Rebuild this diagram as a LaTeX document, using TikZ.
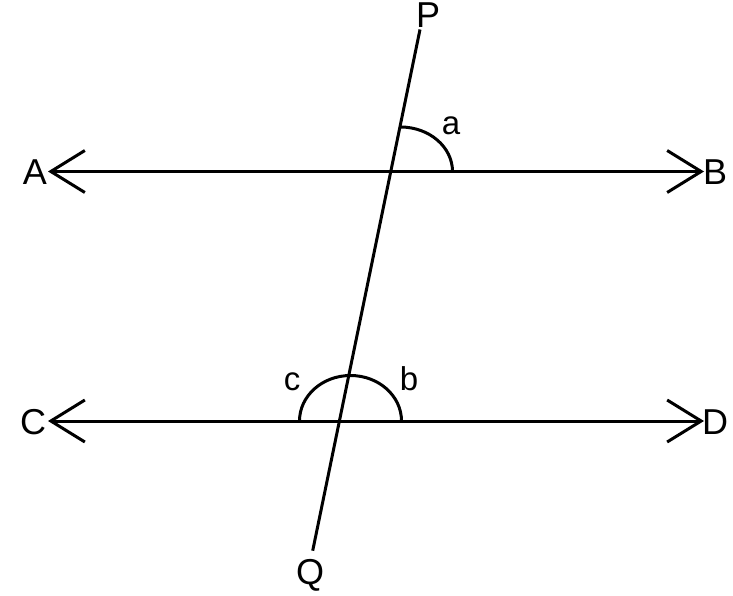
\documentclass[tikz,border=0pt]{standalone}
\usepackage{fontspec}
\setmainfont{Liberation Sans}
\usetikzlibrary{arrows.meta}
\begin{document}
\begin{tikzpicture}[x=1pt,y=-1pt,
  ln/.style={line width=3pt,black},
  arr/.style={ln,{Straight Barb[length=34pt,width=42pt,line width=3pt]}-{Straight Barb[length=34pt,width=42pt,line width=3pt]}},
  lab/.style={inner sep=0pt,font=\fontsize{36}{40}\selectfont},
  slab/.style={inner sep=0pt,font=\fontsize{33}{38}\selectfont}]
\useasboundingbox (0,0) rectangle (733,596);
% end points
\coordinate (a1) at (48,171.5);
\coordinate (b1) at (704,171.5);
\coordinate (c1) at (48,421);
\coordinate (d1) at (704,421);
\coordinate (p1) at (420,29.5);
\coordinate (q1) at (312.7,550.7);
% labels
\node[lab] (A) at (35,172) {A};
\node[lab] (B) at (715,172) {B};
\node[lab] (C) at (33,422) {C};
\node[lab] (D) at (715,422) {D};
\node[lab] (P) at (428,15.5) {P};
\node[lab] (Q) at (310,575) {Q};
\node[slab] (la) at (451,126) {a};
\node[slab] (lb) at (409,379) {b};
\node[slab] (lc) at (292,382) {c};
% lines
\draw[arr] (a1) -- (b1);
\draw[arr] (c1) -- (d1);
\draw[ln] (p1) -- (q1);
% angle arcs
\coordinate (o1) at (400.5,171.5);
\coordinate (o2) at (350.5,421);
\draw[ln] ([xshift=52pt]o1) arc[start angle=0,end angle=-90,x radius=52,y radius=44.5];
\draw[ln] ([xshift=-51pt]o2) arc[start angle=180,end angle=360,x radius=51,y radius=45.5];
\end{tikzpicture}
\end{document}
